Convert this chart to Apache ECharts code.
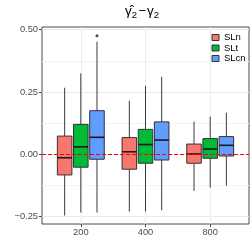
<!DOCTYPE html>
<html><head><meta charset="utf-8">
<script src="https://cdn.jsdelivr.net/npm/echarts@6/dist/echarts.min.js"></script>
<style>html,body{margin:0;padding:0;background:#fff}#c{width:252px;height:252px}</style>
</head><body><div id="c"></div>
<script>
// ---- data ----
const categories = ['200', '400', '800'];
const seriesNames = ['SLn', 'SLt', 'SLcn'];
// [lower whisker, Q1, median, Q3, upper whisker] per category
const slnStats  = [[-0.246, -0.083, -0.014, 0.073, 0.267], [-0.230, -0.060, 0.010, 0.067, 0.215], [-0.147, -0.036, 0.001, 0.041, 0.131]];
const sltStats  = [[-0.234, -0.052, 0.030, 0.120, 0.325], [-0.230, -0.036, 0.039, 0.100, 0.275], [-0.134, -0.016, 0.021, 0.063, 0.151]];
const slcnStats = [[-0.234, -0.020, 0.068, 0.175, 0.452], [-0.225, -0.023, 0.057, 0.130, 0.311], [-0.126, -0.007, 0.036, 0.071, 0.167]];
// outliers: [series index, category index, value]
const outliers = [[2, 0, 0.476]];
const yTicks = [-0.25, 0, 0.25, 0.5];

// ---- layout ----
const colors = ['#F8766D', '#00BA38', '#619CFF'];
const P = {left: 42, right: 249, top: 27, bottom: 224};
const Y = {min: -0.280, max: 0.511};
const X = {min: 0.4, max: 3.6};
const ppu = (P.bottom - P.top) / (Y.max - Y.min);
const ppx = (P.right - P.left) / (X.max - X.min);
const dodge = [-0.25, 0, 0.25];
const boxW = 0.225;
const FONT = 'Liberation Sans';
const fmt = v => (v < 0 ? '\u2212' : '') + Math.abs(v).toFixed(2);

function makeRender(off) {
  return function (params, api) {
    const x = api.value(0) + off;
    const lo = api.coord([x, api.value(1)]);
    const q1 = api.coord([x, api.value(2)]);
    const md = api.coord([x, api.value(3)]);
    const q3 = api.coord([x, api.value(4)]);
    const hi = api.coord([x, api.value(5)]);
    const w = api.size([boxW, 0])[0];
    const c = api.visual('color');
    const ws = {stroke: '#3a3a3a', lineWidth: 1};
    return {type: 'group', children: [
      {type: 'line', shape: {x1: lo[0], y1: lo[1], x2: q1[0], y2: q1[1]}, style: ws},
      {type: 'line', shape: {x1: q3[0], y1: q3[1], x2: hi[0], y2: hi[1]}, style: ws},
      {type: 'rect', shape: {x: q3[0] - w / 2, y: q3[1], width: w, height: q1[1] - q3[1]}, style: {fill: c, stroke: '#333', lineWidth: 1}},
      {type: 'line', shape: {x1: md[0] - w / 2, y1: md[1], x2: md[0] + w / 2, y2: md[1]}, style: {stroke: '#1a1a1a', lineWidth: 1.6}}
    ]};
  };
}

const allStats = [slnStats, sltStats, slcnStats];
const series = allStats.map((st, si) => ({
  type: 'custom', name: seriesNames[si], xAxisIndex: 0, yAxisIndex: 0,
  itemStyle: {color: colors[si]},
  renderItem: makeRender(dodge[si]),
  encode: {x: 0, y: [1, 2, 3, 4, 5]},
  data: st.map((s, ci) => [ci + 1].concat(s)),
  z: 3
}));
series.push({
  type: 'scatter', name: 'outliers', xAxisIndex: 0, yAxisIndex: 0,
  symbolSize: 3, itemStyle: {color: '#1a1a1a'}, z: 4,
  data: outliers.map(o => [o[1] + 1 + dodge[o[0]], o[2]])
});
series.push({
  type: 'line', name: 'ref', xAxisIndex: 0, yAxisIndex: 0, data: [], z: 6,
  markLine: {silent: true, symbol: 'none', label: {show: false},
    lineStyle: {color: '#FF0000', type: [4, 2], width: 1}, data: [{yAxis: 0}]}
});

const g1Top = P.top + (Y.max - yTicks[yTicks.length - 1]) * ppu;
const g1Bottom = 252 - (P.bottom - (yTicks[0] - Y.min) * ppu);
const g2Left = P.left + (1 - X.min) * ppx;
const g2Right = 252 - (P.right - (X.max - 3) * ppx);

const option = {
  animation: false,
  title: {
    text: '{g|\u03B3\u0302}{s|2}{m|\u2212}{g|\u03B3}{s|2}', left: 142, top: 3, textAlign: 'center', padding: 0,
    textStyle: {fontFamily: FONT, fontSize: 13, fontWeight: 'normal', color: '#000',
      rich: {
        g: {fontFamily: FONT, fontSize: 13.5, lineHeight: 17, color: '#000'},
        m: {fontFamily: FONT, fontSize: 13, lineHeight: 17, color: '#000', padding: [0, 1, 0, 1.5]},
        s: {fontFamily: FONT, fontSize: 9.5, lineHeight: 11, verticalAlign: 'bottom', color: '#000'}
      }}
  },
  legend: {
    data: seriesNames, orient: 'vertical', left: 211.5, top: 32.5, padding: 0, icon: 'rect',
    itemWidth: 7, itemHeight: 6, itemGap: 0.5,
    itemStyle: {borderColor: '#333', borderWidth: 1},
    textStyle: {fontFamily: FONT, fontSize: 9.5, color: '#000', lineHeight: 10, padding: [0, 0, 0, 0]}
  },
  grid: [
    {left: P.left, right: 252 - P.right, top: P.top, bottom: 252 - P.bottom, show: true, borderColor: '#4d4d4d', borderWidth: 1, backgroundColor: 'transparent'},
    {left: P.left, right: 252 - P.right, top: g1Top, bottom: g1Bottom},
    {left: g2Left, right: g2Right, top: P.top, bottom: 252 - P.bottom}
  ],
  xAxis: [
    {type: 'value', gridIndex: 0, min: X.min, max: X.max, show: false},
    {type: 'value', gridIndex: 1, show: false},
    {type: 'category', gridIndex: 2, data: categories, boundaryGap: false,
      axisLine: {show: false},
      axisTick: {show: true, length: 3, lineStyle: {color: '#4d4d4d'}},
      axisLabel: {fontFamily: FONT, fontSize: 9.3, color: '#4d4d4d', margin: 4},
      splitLine: {show: true, lineStyle: {color: '#ebebeb', width: 1}}}
  ],
  yAxis: [
    {type: 'value', gridIndex: 0, min: Y.min, max: Y.max, show: false},
    {type: 'value', gridIndex: 1, min: yTicks[0], max: yTicks[yTicks.length - 1], interval: 0.25,
      axisLine: {show: false},
      axisTick: {show: true, length: 3, lineStyle: {color: '#4d4d4d'}},
      axisLabel: {fontFamily: FONT, fontSize: 9.3, color: '#4d4d4d', margin: 4, formatter: fmt},
      splitLine: {show: true, lineStyle: {color: '#ebebeb', width: 1}},
      minorTick: {show: false, splitNumber: 2},
      minorSplitLine: {show: true, lineStyle: {color: '#f4f4f4', width: 1}}},
    {type: 'value', gridIndex: 2, show: false}
  ],
  series: series
};
echarts.init(document.getElementById('c'), null, {renderer: 'canvas'}).setOption(option);
</script></body></html>
